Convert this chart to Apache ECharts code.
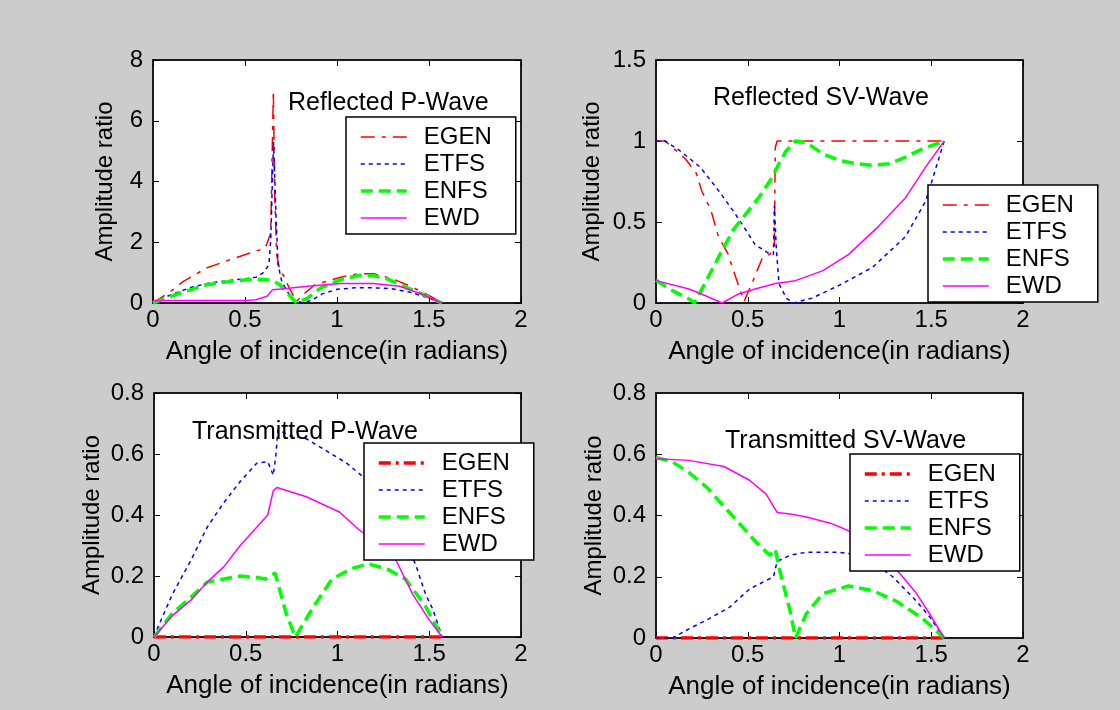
<!DOCTYPE html>
<html>
<head>
<meta charset="utf-8">
<script src="https://cdn.jsdelivr.net/npm/echarts@6/dist/echarts.min.js"></script>
<style>
html,body{margin:0;padding:0;background:#cccccc;}
#chart{width:1120px;height:710px;}
</style>
</head>
<body>
<div id="chart"></div>
<script>
// ---------- DATA ----------
const seriesNames = ['EGEN', 'ETFS', 'ENFS', 'EWD'];
const panelTitles = ['Reflected P-Wave', 'Reflected SV-Wave', 'Transmitted P-Wave', 'Transmitted SV-Wave'];
const xTicks = [0, 0.5, 1, 1.5, 2];
const yRanges = [[0, 8, 2], [0, 1.5, 0.5], [0, 0.8, 0.2], [0, 0.8, 0.2]];
const xLabel = 'Angle of incidence(in radians)';
const yLabel = 'Amplitude ratio';

// Reflected P-Wave
const rpEGEN = [[0,0],[0.05,0.2],[0.1,0.4],[0.165,0.71],[0.29,1.15],[0.42,1.43],[0.53,1.65],[0.61,1.81],[0.64,2.3],[0.654,7.0],[0.662,3.5],[0.672,1.6],[0.69,1.05],[0.71,0.9],[0.74,0.5],[0.78,0.05],[0.82,0.3],[0.88,0.6],[0.94,0.71],[1.02,0.85],[1.11,0.96],[1.2,0.96],[1.3,0.8],[1.4,0.55],[1.5,0.25],[1.5708,0]];
const rpETFS = [[0,0],[0.1,0.28],[0.2,0.5],[0.3,0.65],[0.4,0.73],[0.5,0.8],[0.56,0.85],[0.6,1.0],[0.63,1.26],[0.64,2.1],[0.655,5.3],[0.663,3.9],[0.67,2.6],[0.68,1.26],[0.7,0.7],[0.73,0.38],[0.76,0.1],[0.82,0],[0.87,0.12],[0.92,0.3],[1.0,0.45],[1.1,0.5],[1.2,0.5],[1.3,0.47],[1.4,0.35],[1.5,0.16],[1.5708,0]];
const rpENFS = [[0,0],[0.05,0.12],[0.15,0.33],[0.29,0.6],[0.42,0.71],[0.53,0.77],[0.6,0.78],[0.65,0.74],[0.69,0.6],[0.73,0.33],[0.78,0],[0.84,0.16],[0.91,0.49],[1.02,0.77],[1.12,0.91],[1.2,0.9],[1.28,0.78],[1.34,0.6],[1.45,0.33],[1.5708,0]];
const rpEWD  = [[0,0.08],[0.2,0.08],[0.4,0.08],[0.5,0.08],[0.56,0.11],[0.62,0.22],[0.65,0.44],[0.71,0.47],[0.84,0.55],[1.02,0.64],[1.2,0.64],[1.34,0.55],[1.47,0.27],[1.5708,0]];

// Reflected SV-Wave
const rsEGEN = [[0,1],[0.05,1],[0.08,0.97],[0.16,0.89],[0.22,0.8],[0.25,0.69],[0.3,0.57],[0.34,0.41],[0.39,0.31],[0.44,0.14],[0.48,0.01],[0.53,0.14],[0.58,0.28],[0.62,0.3],[0.645,0.35],[0.65,0.96],[0.66,1],[0.8,1],[1.0,1],[1.2,1],[1.4,1],[1.5708,1]];
const rsETFS = [[0,1],[0.05,1],[0.13,0.94],[0.24,0.84],[0.33,0.71],[0.42,0.57],[0.49,0.45],[0.54,0.36],[0.61,0.31],[0.64,0.3],[0.645,0.6],[0.655,0.35],[0.67,0.12],[0.71,0.03],[0.75,0],[0.85,0.03],[1.0,0.11],[1.18,0.22],[1.36,0.41],[1.47,0.63],[1.5708,1]];
const rsENFS = [[0,0.14],[0.09,0.076],[0.18,0.025],[0.21,0],[0.25,0.086],[0.34,0.28],[0.42,0.45],[0.49,0.55],[0.56,0.65],[0.63,0.77],[0.67,0.86],[0.71,0.94],[0.76,1.0],[0.82,0.99],[0.91,0.92],[1.0,0.88],[1.09,0.86],[1.18,0.85],[1.27,0.86],[1.36,0.9],[1.45,0.95],[1.5708,1]];
const rsEWD  = [[0,0.138],[0.18,0.086],[0.27,0.045],[0.36,0],[0.45,0.056],[0.54,0.086],[0.65,0.12],[0.76,0.138],[0.91,0.2],[1.05,0.3],[1.21,0.47],[1.36,0.65],[1.47,0.84],[1.5708,1]];

// Transmitted P-Wave
const tpEGEN = [[0,0],[0.4,0],[0.8,0],[1.2,0],[1.5708,0]];
const tpETFS = [[0,0],[0.02,0.03],[0.1,0.14],[0.2,0.25],[0.29,0.36],[0.38,0.44],[0.47,0.51],[0.56,0.57],[0.62,0.575],[0.65,0.53],[0.665,0.6],[0.675,0.68],[0.74,0.66],[0.83,0.65],[0.94,0.61],[1.05,0.57],[1.15,0.52],[1.25,0.45],[1.35,0.35],[1.43,0.23],[1.48,0.14],[1.52,0.09],[1.5708,0]];
const tpENFS = [[0,0],[0.1,0.078],[0.2,0.13],[0.29,0.18],[0.38,0.19],[0.47,0.2],[0.56,0.195],[0.61,0.19],[0.66,0.21],[0.68,0.165],[0.72,0.078],[0.77,0],[0.87,0.1],[0.97,0.19],[1.08,0.225],[1.17,0.24],[1.28,0.22],[1.37,0.19],[1.48,0.1],[1.5708,0]];
const tpEWD  = [[0,0],[0.1,0.07],[0.2,0.12],[0.29,0.18],[0.38,0.23],[0.47,0.3],[0.56,0.36],[0.62,0.4],[0.65,0.48],[0.67,0.49],[0.83,0.46],[1.01,0.41],[1.12,0.35],[1.22,0.31],[1.32,0.25],[1.41,0.14],[1.5,0.056],[1.5708,0]];

// Transmitted SV-Wave
const tsEGEN = [[0,0],[0.4,0],[0.8,0],[1.2,0],[1.5708,0]];
const tsETFS = [[0,0],[0.09,0],[0.18,0.03],[0.28,0.06],[0.4,0.1],[0.51,0.16],[0.64,0.2],[0.66,0.25],[0.73,0.27],[0.82,0.28],[1.0,0.28],[1.11,0.27],[1.2,0.24],[1.29,0.2],[1.42,0.12],[1.49,0.07],[1.5708,0]];
const tsENFS = [[0,0.59],[0.09,0.575],[0.18,0.54],[0.28,0.49],[0.37,0.43],[0.46,0.37],[0.55,0.31],[0.62,0.27],[0.65,0.29],[0.67,0.23],[0.73,0.09],[0.76,0],[0.82,0.08],[0.91,0.145],[1.05,0.17],[1.18,0.155],[1.31,0.12],[1.45,0.065],[1.5708,0]];
const tsEWD  = [[0,0.585],[0.18,0.58],[0.37,0.56],[0.51,0.515],[0.6,0.47],[0.66,0.41],[0.73,0.405],[0.82,0.395],[0.95,0.375],[1.05,0.35],[1.15,0.31],[1.25,0.26],[1.33,0.21],[1.42,0.145],[1.49,0.08],[1.5708,0]];

const panelData = [
  [rpEGEN, rpETFS, rpENFS, rpEWD],
  [rsEGEN, rsETFS, rsENFS, rsEWD],
  [tpEGEN, tpETFS, tpENFS, tpEWD],
  [tsEGEN, tsETFS, tsENFS, tsEWD]
];

// ---------- LAYOUT / STYLE ----------
const FONT = "'Liberation Sans', Arial, sans-serif";
const FS = 24;
const grids = [
  {left: 153, top: 60, width: 368, height: 243},
  {left: 656, top: 60, width: 367, height: 243},
  {left: 154, top: 393, width: 367, height: 244},
  {left: 656, top: 393, width: 367, height: 245}
];
const yNameGaps = [36, 52, 50, 50];
const titlePos = [{left: 288, top: 91}, {left: 713, top: 86}, {left: 192, top: 420}, {left: 725, top: 429}];
const legendPos = [{left: 346, top: 117}, {left: 928, top: 185}, {left: 364, top: 443}, {left: 850, top: 454}];

function lineStyleFor(k, panel) {
  const thickEgen = panel >= 2;
  switch (k) {
    case 0: return {color: '#ff0000', width: thickEgen ? 3.5 : 1.5, type: thickEgen ? [12, 5, 3, 5] : [14, 7, 4, 7]};
    case 1: return {color: '#0000ff', width: 1.5, type: [4, 4]};
    case 2: return {color: '#00ff00', width: 3.5, type: [12, 6]};
    default: return {color: '#ff00ff', width: 1.5, type: 'solid'};
  }
}

function makeTick() {
  return {show: true, inside: true, length: 6, lineStyle: {color: '#000', width: 1}};
}
function makeLine() {
  return {show: true, onZero: false, lineStyle: {color: '#111', width: 1.5}};
}

const option = {
  backgroundColor: '#cccccc',
  animation: false,
  title: [], grid: [], xAxis: [], yAxis: [], legend: [], series: []
};

grids.forEach((g, p) => {
  option.grid.push(Object.assign({show: true, backgroundColor: '#ffffff', borderColor: '#111', borderWidth: 1.5, containLabel: false}, g));
  option.title.push({
    text: panelTitles[p], left: titlePos[p].left, top: titlePos[p].top, padding: 0,
    textStyle: {fontFamily: FONT, fontSize: 25, fontWeight: 'normal', color: '#000'}
  });
  const [ymin, ymax, yint] = yRanges[p];
  option.xAxis.push({
    type: 'value', gridIndex: p, position: 'bottom', min: xTicks[0], max: xTicks[xTicks.length - 1], interval: 0.5,
    axisLine: makeLine(), axisTick: makeTick(), splitLine: {show: false},
    axisLabel: {color: '#000', fontFamily: FONT, fontSize: FS, margin: 5},
    name: xLabel, nameLocation: 'middle', nameGap: 36,
    nameTextStyle: {color: '#000', fontFamily: FONT, fontSize: 26}
  });
  option.xAxis.push({
    type: 'value', gridIndex: p, position: 'top', min: xTicks[0], max: xTicks[xTicks.length - 1], interval: 0.5,
    axisLine: makeLine(), axisTick: makeTick(), splitLine: {show: false}, axisLabel: {show: false}
  });
  option.yAxis.push({
    type: 'value', gridIndex: p, position: 'left', min: ymin, max: ymax, interval: yint,
    axisLine: makeLine(), axisTick: makeTick(), splitLine: {show: false},
    axisLabel: {color: '#000', fontFamily: FONT, fontSize: FS, margin: 10},
    name: yLabel, nameLocation: 'middle', nameGap: yNameGaps[p],
    nameTextStyle: {color: '#000', fontFamily: FONT, fontSize: FS}
  });
  option.yAxis.push({
    type: 'value', gridIndex: p, position: 'right', min: ymin, max: ymax, interval: yint,
    axisLine: makeLine(), axisTick: makeTick(), splitLine: {show: false}, axisLabel: {show: false}
  });
  const legendData = [];
  seriesNames.forEach((nm, k) => {
    const sname = nm + '#' + p;
    legendData.push(sname);
    option.series.push({
      type: 'line', name: sname, xAxisIndex: 2 * p, yAxisIndex: 2 * p,
      data: panelData[p][k], symbol: 'none', smooth: false, clip: true,
      lineStyle: lineStyleFor(k, p), z: 2 + k
    });
  });
  option.legend.push({
    orient: 'vertical', left: legendPos[p].left, top: legendPos[p].top,
    data: legendData, formatter: n => n.split('#')[0], selectedMode: false,
    backgroundColor: '#ffffff', borderColor: '#000', borderWidth: 1.5, borderRadius: 0,
    padding: [8, 24, 4, 13], itemWidth: 46, itemHeight: 14, itemGap: 3,
    itemStyle: {opacity: 0},
    lineStyle: {width: 'inherit'},
    textStyle: {fontFamily: FONT, fontSize: FS, color: '#000', padding: [0, 0, 0, 12]},
    z: 10
  });
});

const chart = echarts.init(document.getElementById('chart'), null, {renderer: 'canvas'});
chart.setOption(option);
</script>
</body>
</html>
